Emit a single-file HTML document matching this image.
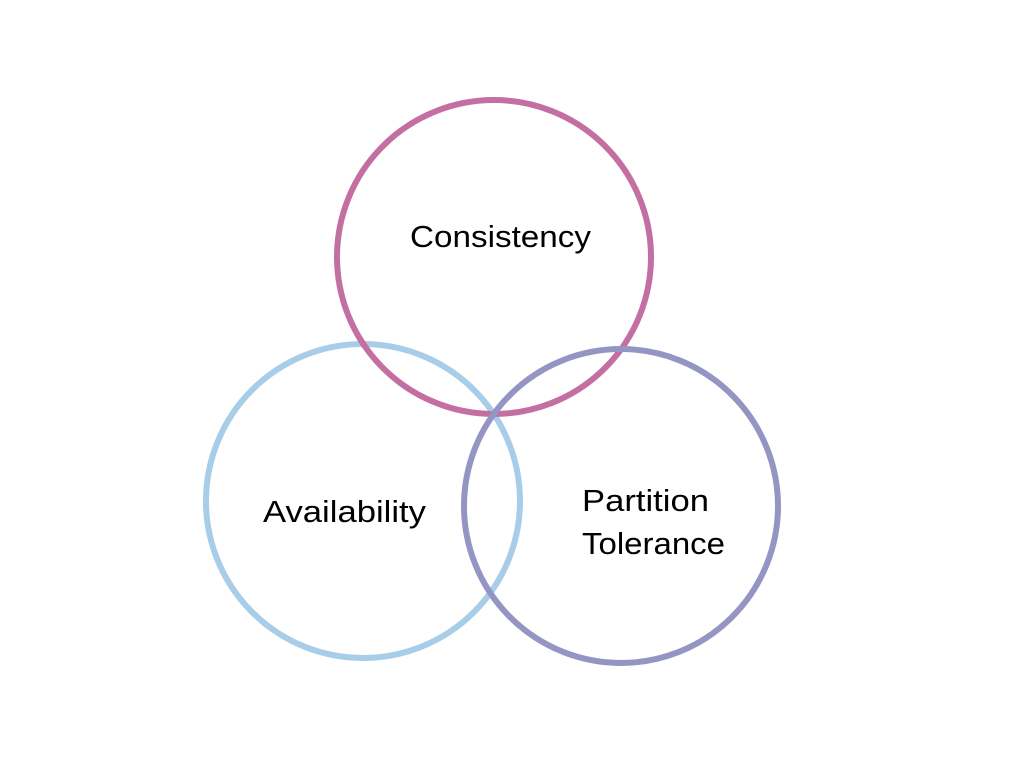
<!DOCTYPE html>
<html><head><meta charset="utf-8"><style>
html,body{margin:0;padding:0;background:#fff;width:1024px;height:768px;overflow:hidden}
</style></head><body>
<svg width="1024" height="768" viewBox="0 0 1024 768" xmlns="http://www.w3.org/2000/svg">
<rect width="1024" height="768" fill="#fff"/>
<circle cx="363" cy="501" r="157" fill="none" stroke="#a8cde8" stroke-width="6"/>
<circle cx="494" cy="257" r="157" fill="none" stroke="#c46fa1" stroke-width="6"/>
<circle cx="621" cy="506" r="157" fill="none" stroke="#9595c4" stroke-width="6"/>
<g font-family="Liberation Sans, sans-serif" font-size="31" fill="#000">
<text x="410" y="247" textLength="181" lengthAdjust="spacingAndGlyphs">Consistency</text>
<text x="263" y="522" textLength="163" lengthAdjust="spacingAndGlyphs">Availability</text>
<text x="582" y="511" textLength="127" lengthAdjust="spacingAndGlyphs">Partition</text>
<text x="582" y="554" textLength="143" lengthAdjust="spacingAndGlyphs">Tolerance</text>
</g>
</svg>
</body></html>
